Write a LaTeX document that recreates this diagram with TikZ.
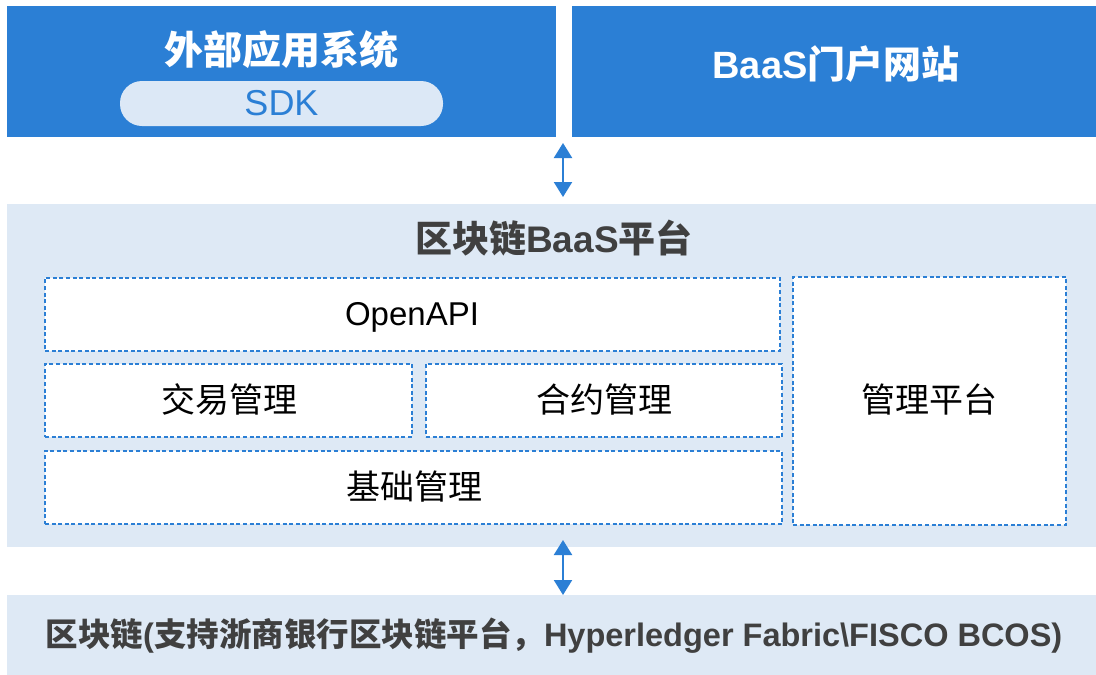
\documentclass[tikz,border=0pt]{standalone}
\usepackage{fontspec}
\setmainfont{Liberation Sans}
\newfontfamily\cjk{Noto Sans CJK SC}
\usetikzlibrary{arrows.meta}
\definecolor{bblue}{HTML}{2B7FD5}
\definecolor{pale}{HTML}{DEE9F5}
\definecolor{pill}{HTML}{DCE8F6}
\definecolor{ink}{HTML}{404040}
\begin{document}
\begin{tikzpicture}[x=1pt,y=-1pt,
  panel/.style={draw=none, inner sep=0pt, outer sep=0pt, anchor=north west},
  topbox/.style={panel, fill=bblue},
  palebox/.style={panel, fill=pale},
  modbox/.style={panel, fill=white, draw=bblue, line width=1.9pt, dash pattern=on 4pt off 2.6pt},
  pillbox/.style={fill=pill, rounded corners=22pt, inner sep=0pt, minimum width=323pt, minimum height=45pt,
                  text=bblue, font=\fontsize{36}{40}\selectfont},
  headtxt/.style={text=white, font=\bfseries\fontsize{39}{44}\selectfont, inner sep=0pt},
  modtxt/.style={text=black, font=\fontsize{33}{38}\selectfont, inner sep=0pt},
  link/.style={draw=bblue, line width=2.2pt, {Triangle[width=18pt,length=15pt]}-{Triangle[width=18pt,length=15pt]}}
]
\useasboundingbox (0,0) rectangle (1096,675);
\fill[white] (0,0) rectangle (1096,675);

% upper row: client systems and portal
\node[topbox, minimum width=549pt, minimum height=131pt] (ext) at (7,6) {};
\node[topbox, minimum width=524pt, minimum height=131pt] (portal) at (572,6) {};
\node[headtxt] (extT) at (281,50) {\cjk 外部应用系统};
\node[pillbox] (sdk) at (281.5,103.5) {SDK};
\node[headtxt, font=\bfseries\fontsize{38}{42}\selectfont] (portalT) at (836,64) {BaaS\cjk 门户网站};

% BaaS platform
\node[palebox, minimum width=1089pt, minimum height=343pt] (plat) at (7,204) {};
\node[inner sep=0pt, text=ink, font=\bfseries\fontsize{37}{42}\selectfont] (platT) at (554,238)
  {\cjk 区块链\normalfont\bfseries BaaS\cjk 平台};

% platform modules
\node[modbox, minimum width=735pt, minimum height=73pt] (api) at (45,278) {};
\node[modbox, minimum width=367pt, minimum height=73pt] (tx) at (45,364) {};
\node[modbox, minimum width=356pt, minimum height=73pt] (ct) at (426,364) {};
\node[modbox, minimum width=737pt, minimum height=73pt] (base) at (45,451) {};
\node[modbox, minimum width=273pt, minimum height=248pt] (mgr) at (793,277) {};
\node[modtxt, anchor=base] (apiT) at (412,325) {OpenAPI};
\node[modtxt, font=\fontsize{34}{38}\selectfont] (txT) at (229,400) {\cjk 交易管理};
\node[modtxt, font=\fontsize{34}{38}\selectfont] (ctT) at (604,400) {\cjk 合约管理};
\node[modtxt, font=\fontsize{34}{38}\selectfont] (baseT) at (414,487) {\cjk 基础管理};
\node[modtxt, font=\fontsize{34}{38}\selectfont] (mgrT) at (929,400) {\cjk 管理平台};

% underlying chains
\node[palebox, minimum width=1089pt, minimum height=80pt] (chain) at (7,595) {};
\node[inner sep=0pt, text=ink, font=\bfseries\fontsize{32.5}{37}\selectfont] (chainT) at (554,636)
  {{\cjk 区块链}({\cjk 支持浙商银行区块链平台，}Hyperledger Fabric\textbackslash FISCO BCOS)};

% two-way links between layers
\coordinate (l1a) at (563,143);
\coordinate (l1b) at (563,197);
\coordinate (l2a) at (563,540);
\coordinate (l2b) at (563,595);
\draw[link] (l1a) -- (l1b);
\draw[link] (l2a) -- (l2b);
\end{tikzpicture}
\end{document}
